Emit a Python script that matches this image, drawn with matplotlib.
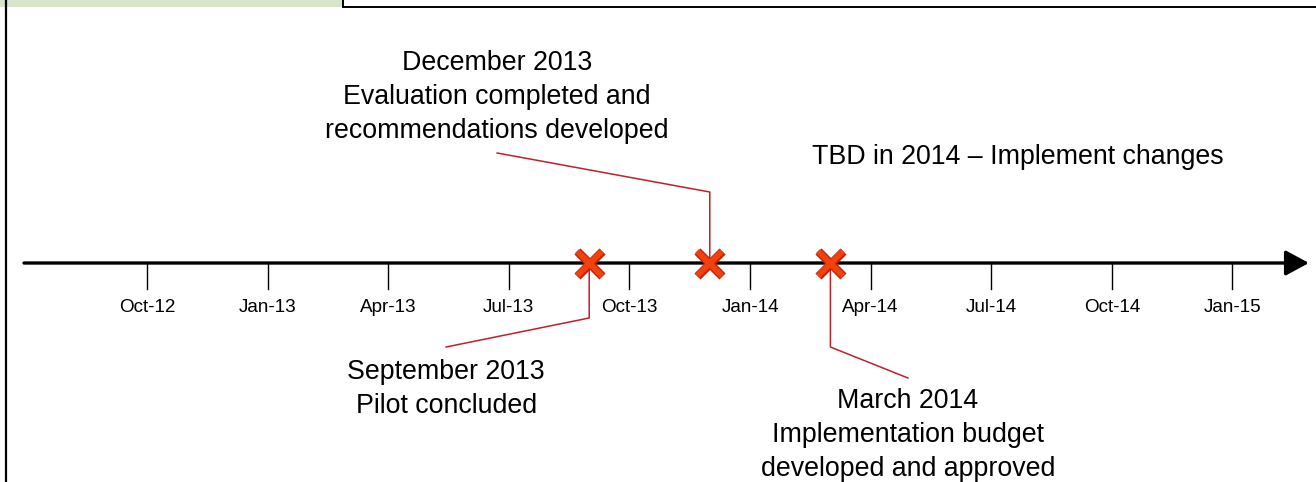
import matplotlib.pyplot as plt
from matplotlib.patches import Rectangle
import matplotlib.patheffects as pe

plt.rcParams['font.family'] = ['Liberation Sans', 'DejaVu Sans']

# Quarter ticks along the timeline (months counted from Oct-12)
tick_labels = ['Oct-12', 'Jan-13', 'Apr-13', 'Jul-13', 'Oct-13',
               'Jan-14', 'Apr-14', 'Jul-14', 'Oct-14', 'Jan-15']
tick_months = [0, 3, 6, 9, 12, 15, 18, 21, 24, 27]

# Milestones
milestone_months = [11, 14, 17]   # Sep-13, Dec-13, Mar-14
milestone_text = ['September 2013\nPilot concluded',
                  'December 2013\nEvaluation completed and\nrecommendations developed',
                  'March 2014\nImplementation budget\ndeveloped and approved']
future_text = 'TBD in 2014 \u2013 Implement changes'

fig = plt.figure(figsize=(13.16, 4.82), dpi=100)
ax = fig.add_axes([0, 0, 1, 1])
ax.set_xlim(-3.657, 29.08)
ax.set_ylim(482, 0)   # y in pixel-like units, top down
ax.axis('off')

px = 1 / 40.2  # one pixel in month units
x0 = -3.657
axis_y = 263

# frame bits
ax.add_patch(Rectangle((x0, 0), 342 * px, 6.5, color='#d8e4cc', lw=0, zorder=0))
ax.plot([x0 + 6.5 * px] * 2, [0, 482], color='black', lw=1.6)
ax.plot([x0 + 343 * px, 29.08], [6.5, 6.5], color='black', lw=1.4)
ax.plot([x0 + 343 * px] * 2, [0, 6.5], color='black', lw=1.4)

# timeline arrow
ax.annotate('', xy=(x0 + 1309 * px, axis_y), xytext=(x0 + 24 * px, axis_y),
            arrowprops=dict(arrowstyle='-|>,head_length=0.65,head_width=0.35',
                            lw=2.4, color='black', shrinkA=0, shrinkB=0,
                            mutation_scale=22))

for m, lab in zip(tick_months, tick_labels):
    ax.plot([m, m], [axis_y, 289], color='black', lw=1.0)
    ax.text(m, 307, lab, ha='center', va='center', fontsize=13.6)

# leader lines (marker -> elbow -> label)
red = '#c0202a'
legs = [(318, 7.44, 347), (192, 8.71, 153), (347, 18.93, 378)]
label_pos = [(7.44, 359), (8.71, 50), (18.93, 388)]
for m, txt, (ey, ex2, ey2), (lx, ty) in zip(milestone_months, milestone_text, legs, label_pos):
    ax.plot([m, m, ex2], [axis_y, ey, ey2], color=red, lw=1.1, zorder=2)
    ax.text(lx, ty, txt, ha='center', va='top', fontsize=19.3, linespacing=1.41,
            multialignment='center', color='black')

ax.plot(milestone_months, [axis_y] * 3, ls='none', marker='x', markersize=18,
        mew=4.2, color='#f4400c', zorder=5,
        path_effects=[pe.Stroke(linewidth=6.2, foreground='#b8280a'), pe.Normal()])

ax.text(x0 + 1018 * px, 157, future_text, ha='center', va='center',
        fontsize=19.3, color='black')

fig.savefig('out.png', dpi=100)
